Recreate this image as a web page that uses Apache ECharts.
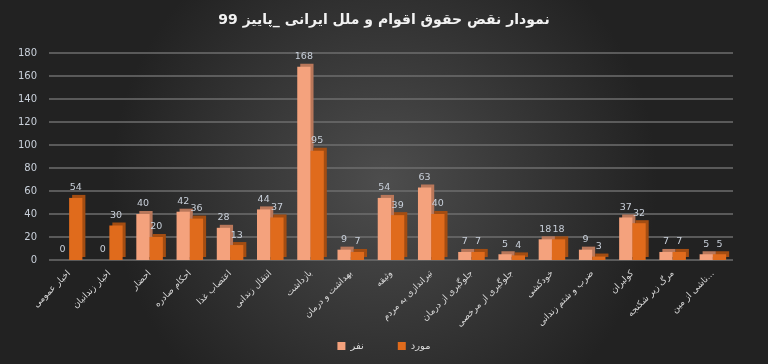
<!DOCTYPE html>
<html>
<head>
<meta charset="utf-8">
<script src="https://cdn.jsdelivr.net/npm/echarts@6/dist/echarts.min.js"></script>
<style>
html,body{margin:0;padding:0;background:#2a2a2a;}
#c{width:768px;height:364px;}
</style>
</head>
<body>
<div id="c"></div>
<script>
const titleText = "نمودار نقض حقوق اقوام و ملل ایرانی _پاییز 99";
const categories = [
  "اخبار عمومی", "اخبار زندانیان", "احضار", "احکام صادره", "اعتصاب غذا",
  "انتقال زندانی", "بازداشت", "بهداشت و درمان", "وثیقه", "تیراندازی به مردم",
  "جلوگیری از درمان", "جلوگیری از مرخصی", "خودکشی", "ضرب و شتم زندانی",
  "کولبران", "مرگ زیر شکنجه", "ناشی از مین..."
];
const seriesNames = ["نفر", "مورد"];
const nafarValues = [0, 0, 40, 42, 28, 44, 168, 9, 54, 63, 7, 5, 18, 9, 37, 7, 5];
const moredValues = [54, 30, 20, 36, 13, 37, 95, 7, 39, 40, 7, 4, 18, 3, 32, 7, 5];
const yTicks = { min: 0, max: 180, interval: 20 };

const chart = echarts.init(document.getElementById('c'), null, { renderer: 'canvas' });
const font = "'DejaVu Sans', 'Liberation Sans', Arial, sans-serif";
const labelStyle = { show: true, position: 'top', color: '#c9d0da', fontSize: 9.5, fontFamily: font, distance: 5 };

chart.setOption({
  backgroundColor: {
    type: 'radial', x: 0.5, y: 0.5, r: 0.75,
    colorStops: [{ offset: 0, color: '#4d4d4d' }, { offset: 1, color: '#222222' }]
  },
  title: {
    text: titleText, left: 'center', top: 8,
    textStyle: { color: '#f2f2f2', fontSize: 14, fontWeight: 'bold', fontFamily: font }
  },
  legend: {
    bottom: 8, left: 'center', itemWidth: 8, itemHeight: 8, itemGap: 34,
    icon: 'rect',
    textStyle: { color: '#d9d9d9', fontSize: 10, fontFamily: font },
    data: seriesNames
  },
  grid: { left: 49, right: 35, top: 53, bottom: 104, containLabel: false },
  xAxis: {
    type: 'category', data: categories,
    axisLine: { show: false }, axisTick: { show: false },
    axisLabel: { rotate: 45, interval: 0, color: '#d9d9d9', fontSize: 9, fontFamily: font, margin: 12 }
  },
  yAxis: {
    type: 'value', min: yTicks.min, max: yTicks.max, interval: yTicks.interval,
    axisLine: { show: false }, axisTick: { show: false },
    axisLabel: { color: '#c9d0da', fontSize: 10, fontFamily: font, margin: 12 },
    splitLine: { lineStyle: { color: '#6e6e6e', width: 1.5 } }
  },
  series: [
    {
      name: seriesNames[0], type: 'bar', data: nafarValues,
      barGap: '0%', barCategoryGap: '34%',
      itemStyle: { color: '#f4a27d', shadowColor: '#b9775a', shadowOffsetX: 3, shadowOffsetY: -3, shadowBlur: 0 },
      label: labelStyle
    },
    {
      name: seriesNames[1], type: 'bar', data: moredValues,
      itemStyle: { color: '#e06b1c', shadowColor: '#a34d12', shadowOffsetX: 3, shadowOffsetY: -3, shadowBlur: 0 },
      label: labelStyle
    }
  ]
});
</script>
</body>
</html>
